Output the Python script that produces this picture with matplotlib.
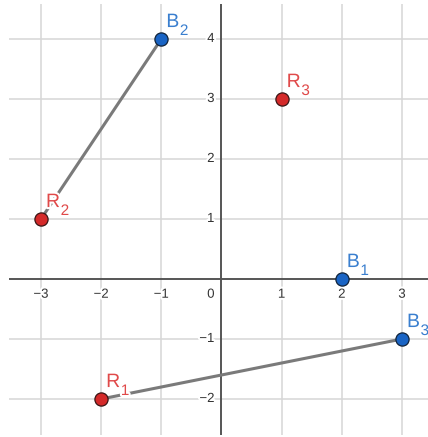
import matplotlib
matplotlib.use('Agg')
import matplotlib.pyplot as plt
import matplotlib.patheffects as pe

# points
red_names = [('R', '1'), ('R', '2'), ('R', '3')]
red_x = [-2, -3, 1]
red_y = [-2, 1, 3]
blue_names = [('B', '1'), ('B', '2'), ('B', '3')]
blue_x = [2, -1, 3]
blue_y = [0, 4, -1]
# segments as (red index, blue index)
pairs = [(1, 1), (0, 2)]

x_ticks = [-3, -2, -1, 1, 2, 3]
y_ticks = [-2, -1, 1, 2, 3, 4]

red_fill, red_txt = '#d42a2a', '#e04a4a'
blue_fill, blue_txt = '#1a64c4', '#3a7fcf'

plt.rcParams['font.family'] = ['Liberation Sans', 'DejaVu Sans']

fig = plt.figure(figsize=(4.28, 4.37), dpi=100)
ax = fig.add_axes([9/428, 2/437, 419/428, 431/437])
ax.set_xlim((9 - 221.5) / 60.17, (428 - 221.5) / 60.17)
ax.set_ylim(-(435 - 279) / 60.0, (279 - 4) / 60.0)
ax.axis('off')

for x in x_ticks:
    ax.axvline(x, color='#d6d6d6', lw=1.1, zorder=0)
for y in y_ticks:
    ax.axhline(y, color='#d6d6d6', lw=1.1, zorder=0)
ax.axhline(0, color='#555555', lw=1.4, zorder=1)
ax.axvline(0, color='#555555', lw=1.4, zorder=1)

halo = [pe.withStroke(linewidth=3, foreground='white')]
for x in x_ticks:
    ax.annotate(str(x).replace('-', '\u2212'), (x, 0), xytext=(0, -7), textcoords='offset points',
                ha='center', va='top', fontsize=9.5, color='#333333', path_effects=halo, zorder=2)
for y in y_ticks:
    ax.annotate(str(y).replace('-', '\u2212'), (0, y), xytext=(-5, 0), textcoords='offset points',
                ha='right', va='center', fontsize=9.5, color='#333333', path_effects=halo, zorder=2)
ax.annotate('0', (0, 0), xytext=(-5, -7), textcoords='offset points',
            ha='right', va='top', fontsize=9.5, color='#333333', path_effects=halo, zorder=2)

for ri, bi in pairs:
    ax.plot([red_x[ri], blue_x[bi]], [red_y[ri], blue_y[bi]], color='#7a7a7a', lw=2.2,
            solid_capstyle='butt', zorder=3)

ax.scatter(red_x, red_y, s=90, color=red_fill, edgecolor='#3a1515', linewidth=0.9, zorder=4)
ax.scatter(blue_x, blue_y, s=90, color=blue_fill, edgecolor='#10233a', linewidth=0.9, zorder=4)

for names, xs, ys, c in [(red_names, red_x, red_y, red_txt), (blue_names, blue_x, blue_y, blue_txt)]:
    for (letter, sub), x, y in zip(names, xs, ys):
        t = ax.annotate(letter, (x, y), xytext=(3.6, 8.6), textcoords='offset points',
                        ha='left', va='baseline', fontsize=14, color=c, path_effects=halo, zorder=5)
        ax.annotate(sub, xy=(1, 0), xycoords=t, xytext=(0.4, -5), textcoords='offset points',
                    ha='left', va='bottom', fontsize=11, color=c, path_effects=halo, zorder=5)

fig.savefig('out.png', dpi=100)
